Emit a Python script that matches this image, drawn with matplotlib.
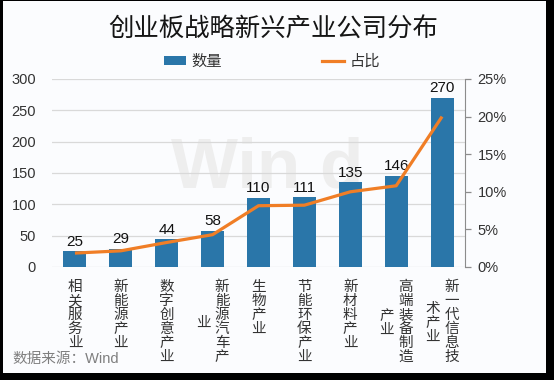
import matplotlib
matplotlib.use("Agg")
import matplotlib.pyplot as plt
from matplotlib.patches import Rectangle, Patch
from matplotlib.lines import Line2D
from matplotlib.transforms import offset_copy, blended_transform_factory
import numpy as np

plt.rcParams['font.family'] = ['Liberation Sans', 'Noto Sans CJK SC', 'DejaVu Sans']

# ---- data ----
categories = ["相关服务业", "新能源产业", "数字创意产业", "新能源汽车产业", "生物产业",
              "节能环保产业", "新材料产业", "高端装备制造产业", "新一代信息技术产业"]
counts = [25, 29, 44, 58, 110, 111, 135, 146, 270]
share_pct = [1.85, 2.15, 3.26, 4.30, 8.15, 8.22, 10.0, 10.8, 20.0]
left_ticks = [0, 50, 100, 150, 200, 250, 300]
right_ticks = [0, 5, 10, 15, 20, 25]
title = "创业板战略新兴产业公司分布"
legend_labels = ["数量", "占比"]
source = "数据来源：Wind"

BLUE = "#2A76A9"
ORANGE = "#F07E26"
TXT = "#333333"

W, H = 554, 380
fig = plt.figure(figsize=(W / 100, H / 100), dpi=100, facecolor="black")
fig.patches.append(Rectangle((3 / W, 1 - 373 / H), 543 / W, 372 / H,
                             transform=fig.transFigure, facecolor="#FBFCFE",
                             edgecolor="none", zorder=-10))

ax = fig.add_axes([52 / W, 1 - 267 / H, (465 - 52) / W, (267 - 79) / H])
ax.set_facecolor("none")
x = np.arange(len(categories))

# watermark
ax.text(0.52, 0.52, "Win d", transform=ax.transAxes, ha="center", va="center",
        fontsize=51, fontweight="bold", color="#EEEEEE", zorder=0.5)

ax.bar(x, counts, width=0.5, color=BLUE, zorder=2)
ax.set_xlim(-0.5, len(categories) - 0.5)
ax.set_ylim(0, 300)
ax.set_yticks(left_ticks)
ax.set_yticklabels([str(t) for t in left_ticks])
ax.yaxis.grid(True, color="#D9D9D9", lw=0.9, zorder=1)
ax.set_axisbelow(True)
for s in ax.spines.values():
    s.set_visible(False)
ax.tick_params(axis="y", length=0, pad=11.5, labelsize=10.5, labelcolor=TXT)
ax.tick_params(axis="x", length=0, labelbottom=False)
ax.set_xticks(x)

for xi, v in zip(x, counts):
    ax.annotate(str(v), (xi, v), xytext=(0, 2), textcoords="offset points",
                ha="center", va="bottom", fontsize=11, color="#111111", zorder=3)

ax2 = ax.twinx()
ax2.plot(x, share_pct, color=ORANGE, lw=2.3, zorder=3, solid_capstyle="butt")
ax2.set_ylim(0, 25)
ax2.set_yticks(right_ticks)
ax2.set_yticklabels([f"{t}%" for t in right_ticks])
for k, s in ax2.spines.items():
    s.set_visible(k == "right")
ax2.spines["right"].set_color("#8C8C8C")
ax2.tick_params(axis="y", length=4, width=0.9, color="#8C8C8C", pad=5,
                labelsize=10.5, labelcolor=TXT)

# category labels (vertical, stacked characters)
trans = blended_transform_factory(ax.transData, ax.transAxes)
for xi, lab in zip(x, categories):
    cols = [lab[i:i + 6] for i in range(0, len(lab), 6)]
    n = len(cols)
    for j, col in enumerate(cols):
        dx = 0 if n == 1 else (9.5 - 19 * j)
        txt = "\n".join(col)
        if j == 0:
            t = offset_copy(trans, fig=fig, x=dx, y=-13, units="dots")
            ax.text(xi, 0, txt, transform=t, ha="center", va="top",
                    fontsize=10.5, color=TXT, linespacing=1.0,
                    family=["Noto Sans CJK SC"])
        else:
            t = offset_copy(trans, fig=fig, x=dx, y=-56, units="dots")
            ax.text(xi, 0, txt, transform=t, ha="center", va="center",
                    fontsize=10.5, color=TXT, linespacing=1.0,
                    family=["Noto Sans CJK SC"])

fig.text(273 / W, 1 - 30 / H, title, ha="center", va="center", fontsize=18.3,
         color="#151515")

handles = [Patch(facecolor=BLUE, edgecolor="none"),
           Line2D([], [], color=ORANGE, lw=2.3)]
fig.legend(handles, legend_labels, loc="center", bbox_to_anchor=(272 / W, 1 - 62 / H),
           ncol=2, frameon=False, fontsize=11, handlelength=1.4, handleheight=0.5,
           handletextpad=0.35, columnspacing=6.6, labelcolor=TXT)

fig.text(12 / W, 1 - 359 / H, source, ha="left", va="center", fontsize=10.5,
         color="#7F7F7F")

fig.savefig("out.png", dpi=100, facecolor=fig.get_facecolor())
